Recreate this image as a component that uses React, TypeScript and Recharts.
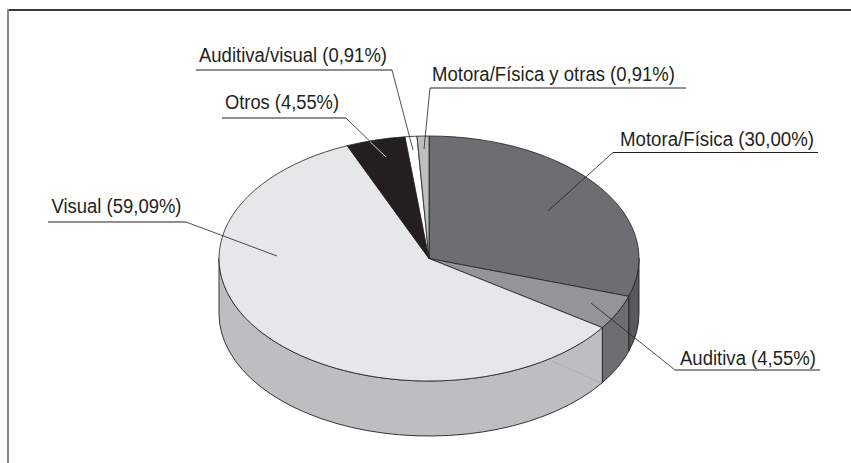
import React from "react";
import { PieChart, Pie } from "recharts";

const categories = ["Motora/Física", "Auditiva", "Visual", "Otros", "Auditiva/visual", "Motora/Física y otras"];
const shares = [30.0, 4.55, 59.09, 4.55, 0.91, 0.91];
const shareLabels = ["30,00", "4,55", "59,09", "4,55", "0,91", "0,91"];
const topColors = ["#6d6e71", "#939598", "#e6e7e8", "#231f20", "#ffffff", "#bcbec0"];
const wallColors = ["#58595b", "#6d6e71", "#bcbec0", "#bcbec0", "#bcbec0", "#bcbec0"];

const tableData = categories.map((name, i) => ({
  name,
  value: shares[i],
  share: shareLabels[i],
  fill: topColors[i],
  wall: wallColors[i],
}));

const CX = 429;
const CY = 258.5;
const RADIUS = 210;
const TILT = 122.5 / 210;
const DEPTH = 55;
const INK = "#231f20";
const FONT = '"Liberation Sans", Arial, sans-serif';

// callout geometry: text start/baseline/width, rule extent, and where the leader ends
const callouts = [
  { tx: 620, ty: 146, tw: 194, ry: 152.5, x1: 613, x2: 818, elbow: 613, ax: 548, ay: 211 },
  { tx: 680, ty: 365, tw: 136, ry: 370, x1: 675, x2: 820, elbow: 675, ax: 591, ay: 303 },
  { tx: 51.5, ty: 213, tw: 130, ry: 222, x1: 48, x2: 186, elbow: 186, ax: 277, ay: 256 },
  { tx: 225, ty: 109, tw: 114, ry: 118, x1: 222, x2: 346, elbow: 346, ax: 386, ay: 157 },
  { tx: 199, ty: 62, tw: 188, ry: 70, x1: 196, x2: 392, elbow: 392, ax: 413, ay: 150 },
  { tx: 432, ty: 81, tw: 243, ry: 88, x1: 430, x2: 686, elbow: 430, ax: 424, ay: 149 },
];

function point(cx: number, cy: number, r: number, deg: number) {
  const a = (deg * Math.PI) / 180;
  return [cx + r * Math.cos(a), cy - r * TILT * Math.sin(a)];
}

function TiltedSlice(props: any) {
  const { cx, cy, outerRadius: r, startAngle, endAngle, fill } = props;
  const wall = props.wall ?? props.payload?.wall;
  const ry = r * TILT;
  const [sx, sy] = point(cx, cy, r, startAngle);
  const [ex, ey] = point(cx, cy, r, endAngle);
  const large = Math.abs(startAngle - endAngle) > 180 ? 1 : 0;
  const top = `M${cx},${cy} L${sx},${sy} A${r},${ry} 0 ${large} 1 ${ex},${ey} Z`;

  const hi = Math.min(startAngle, 0);
  const lo = Math.max(endAngle, -180);
  let side: string | null = null;
  if (hi > lo) {
    const [ax, ay] = point(cx, cy, r, hi);
    const [bx, by] = point(cx, cy, r, lo);
    side = `M${ax},${ay} A${r},${ry} 0 0 1 ${bx},${by} L${bx},${by + DEPTH} A${r},${ry} 0 0 0 ${ax},${ay + DEPTH} Z`;
  }
  return (
    <g>
      {side && <path d={side} fill={wall} stroke={INK} strokeWidth={0.9} />}
      <path d={top} fill={fill} stroke={INK} strokeWidth={0.8} strokeLinejoin="round" />
    </g>
  );
}

function Callout(props: any) {
  const i = props.index as number;
  const c = callouts[i];
  const item = tableData[i];
  return (
    <g>
      {i === 2 && (
        <line x1={552} y1={361} x2={601} y2={383} stroke="#8f9093" strokeWidth={0.7} strokeDasharray="1.5 1.5" />
      )}
      <line x1={c.x1} y1={c.ry} x2={c.x2} y2={c.ry} stroke={INK} strokeWidth={1} />
      <line x1={c.elbow} y1={c.ry} x2={c.ax} y2={c.ay} stroke={INK} strokeWidth={0.8} />
      {i === 3 && <line x1={370} y1={141.7} x2={c.ax} y2={c.ay} stroke="#e6e7e8" strokeWidth={0.9} />}
      <text
        x={c.tx}
        y={c.ty}
        fontFamily={FONT}
        fontSize={20}
        fill={INK}
        textAnchor="start"
        textLength={c.tw}
        lengthAdjust="spacingAndGlyphs"
      >
        {`${item.name} (${item.share}%)`}
      </text>
    </g>
  );
}

export default function App() {
  return (
    <div style={{ position: "absolute", left: 0, top: 0, width: 851, height: 463, background: "#fff", overflow: "hidden" }}>
      <div style={{ position: "absolute", left: 7, top: 9, width: 844, height: 2, background: "#3a3839" }} />
      <div style={{ position: "absolute", left: 7, top: 9, width: 2, height: 454, background: "#85868a" }} />
      <div style={{ position: "absolute", left: 0, top: 0 }}>
        <PieChart width={851} height={463} margin={{ top: 0, right: 0, bottom: 0, left: 0 }}>
          <Pie
            data={tableData}
            dataKey="value"
            nameKey="name"
            cx={CX}
            cy={CY}
            innerRadius={0}
            outerRadius={RADIUS}
            startAngle={90}
            endAngle={-270}
            paddingAngle={0}
            stroke="none"
            shape={TiltedSlice}
            label={Callout}
            labelLine={false}
            isAnimationActive={false}
          />
        </PieChart>
      </div>
    </div>
  );
}
